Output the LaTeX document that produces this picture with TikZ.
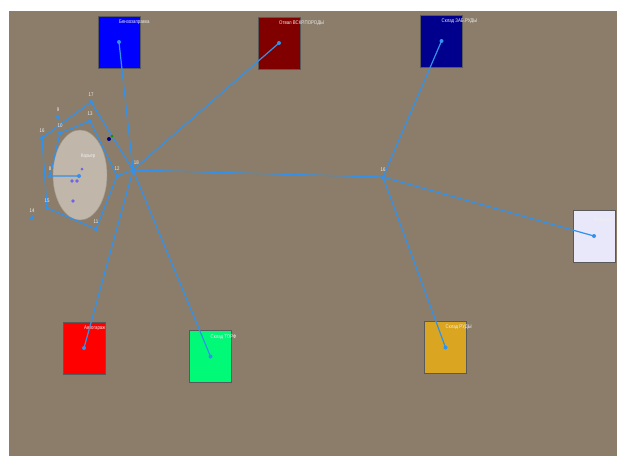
\documentclass[tikz,border=0pt]{standalone}
\usepackage{fontspec}
\setmainfont{Liberation Sans}
\usetikzlibrary{shapes.geometric}
\definecolor{ground}{RGB}{139,125,106}
\definecolor{roadblue}{RGB}{50,145,235}
\definecolor{pitgray}{RGB}{192,182,170}
\definecolor{fuelblue}{RGB}{0,0,255}
\definecolor{dumpred}{RGB}{128,0,0}
\definecolor{orenavy}{RGB}{0,0,140}
\definecolor{millwhite}{RGB}{232,232,250}
\definecolor{garred}{RGB}{255,0,0}
\definecolor{peatgreen}{RGB}{0,250,120}
\definecolor{oregold}{RGB}{218,165,32}
\definecolor{pitdot}{RGB}{110,100,230}
\tikzset{
  depot/.style={draw=black!65, line width=0.8pt, minimum width=42pt, minimum height=52pt, inner sep=0pt},
  road/.style={roadblue, line width=1.2pt},
  lbl/.style={text=white!88!gray, font=\fontsize{5.3}{6}\selectfont, inner sep=0pt, xscale=0.82},
  num/.style={lbl, anchor=south, yshift=5pt}
}
\begin{document}
\begin{tikzpicture}[x=1pt, y=-1pt]
    \useasboundingbox (0,0) rectangle (617,459);
    \fill[white] (0,0) rectangle (617,459);
    \fill[ground] (9,12) rectangle (617,456);
    \draw[gray, line width=1pt] (9,11.5) -- (617,11.5);
    % depots
    \node[depot, fill=fuelblue] (fuel) at (119,42) {};
    \node[depot, fill=dumpred] (dump) at (279,43) {};
    \node[depot, fill=orenavy] (lowore) at (441.5,41) {};
    \node[depot, fill=millwhite] (mill) at (594,236) {};
    \node[depot, fill=garred] (garage) at (84,348) {};
    \node[depot, fill=peatgreen] (peat) at (210.5,356.5) {};
    \node[depot, fill=oregold] (ore) at (445.5,347.5) {};
    \node[lbl, anchor=north west] at ([yshift=-4pt]fuel.north) {Бензозаправка};
    \node[lbl, anchor=north west] at ([yshift=-4pt]dump.north) {Отвал ВСКР.ПОРОДЫ};
    \node[lbl, anchor=north west] at ([yshift=-4pt]lowore.north) {Склад ЗАБ.РУДЫ};
    \node[lbl, anchor=north west] at ([yshift=-8pt]mill.north) {Фабрика};
    \node[lbl, anchor=north west] at ([yshift=-4pt]garage.north) {Автогараж};
    \node[lbl, anchor=north west] at ([yshift=-4pt]peat.north) {Склад ТОРФ};
    \node[lbl, anchor=north west] at ([yshift=-3pt]ore.north) {Склад РУДЫ};
    % quarry
    \node[ellipse, fill=pitgray, draw=pitgray!85!black, line width=0.4pt, minimum width=54pt, minimum height=90pt, inner sep=0pt] (pit) at (80,175) {};
    \node[lbl] at (88,156) {Карьер};
    \coordinate (p17) at (91,102); \coordinate (p13) at (90,121);
    \coordinate (p9) at (58,117);  \coordinate (p10) at (60,133);
    \coordinate (p16) at (42,138); \coordinate (p8) at (50,176);
    \coordinate (pc) at (79,176);  \coordinate (p12) at (117,176);
    \coordinate (p15) at (47,208); \coordinate (p14) at (32,218);
    \coordinate (p11) at (96,229);
    \coordinate (hub) at (133,170); \coordinate (junc) at (383,177);
    % roads
    \draw[road] (hub) -- (fuel.center);
    \draw[road] (hub) -- (dump.center);
    \draw[road] (hub) -- (garage.center);
    \draw[road] (hub) -- (peat.center);
    \draw[road] (hub) -- (junc);
    \draw[road] (junc) -- (lowore.center);
    \draw[road] (junc) -- (mill.center);
    \draw[road] (junc) -- (ore.center);
    \draw[road] (p16) -- (p17) -- (hub);
    \draw[road] (p16) -- (p15) -- (p11) -- (p12) -- (hub);
    \draw[road] (p12) -- (p13) -- (p10) -- (p8) -- (pc);
    % points
    \foreach \p in {fuel.center, dump.center, lowore.center, mill.center, garage.center, peat.center, ore.center, hub, junc, p17, p13, p9, p10, p16, p8, pc, p12, p15, p14, p11}
      \fill[roadblue] (\p) circle (2pt);
    \fill[pitdot] (72,181) circle (1.8pt); \fill[pitdot] (77,181) circle (1.8pt);
    \fill[pitdot] (82,169) circle (1.5pt); \fill[pitdot] (73,201) circle (1.8pt);
    \fill[green!60!black] (112,136) circle (1.5pt);
    \fill[orenavy] (109,139) circle (2pt);
    % numbers
    \node[num] at (p17) {17}; \node[num] at (p13) {13};
    \node[num] at (p9) {9};   \node[num] at (p10) {10};
    \node[num] at (p16) {16}; \node[num] at (p8) {8};
    \node[num] at (p12) {12}; \node[num] at (p15) {15};
    \node[num] at (p14) {14}; \node[num] at (p11) {11};
    \node[num, anchor=south west, xshift=1pt] at (hub) {18};
    \node[num] at (junc) {16};
\end{tikzpicture}
\end{document}
